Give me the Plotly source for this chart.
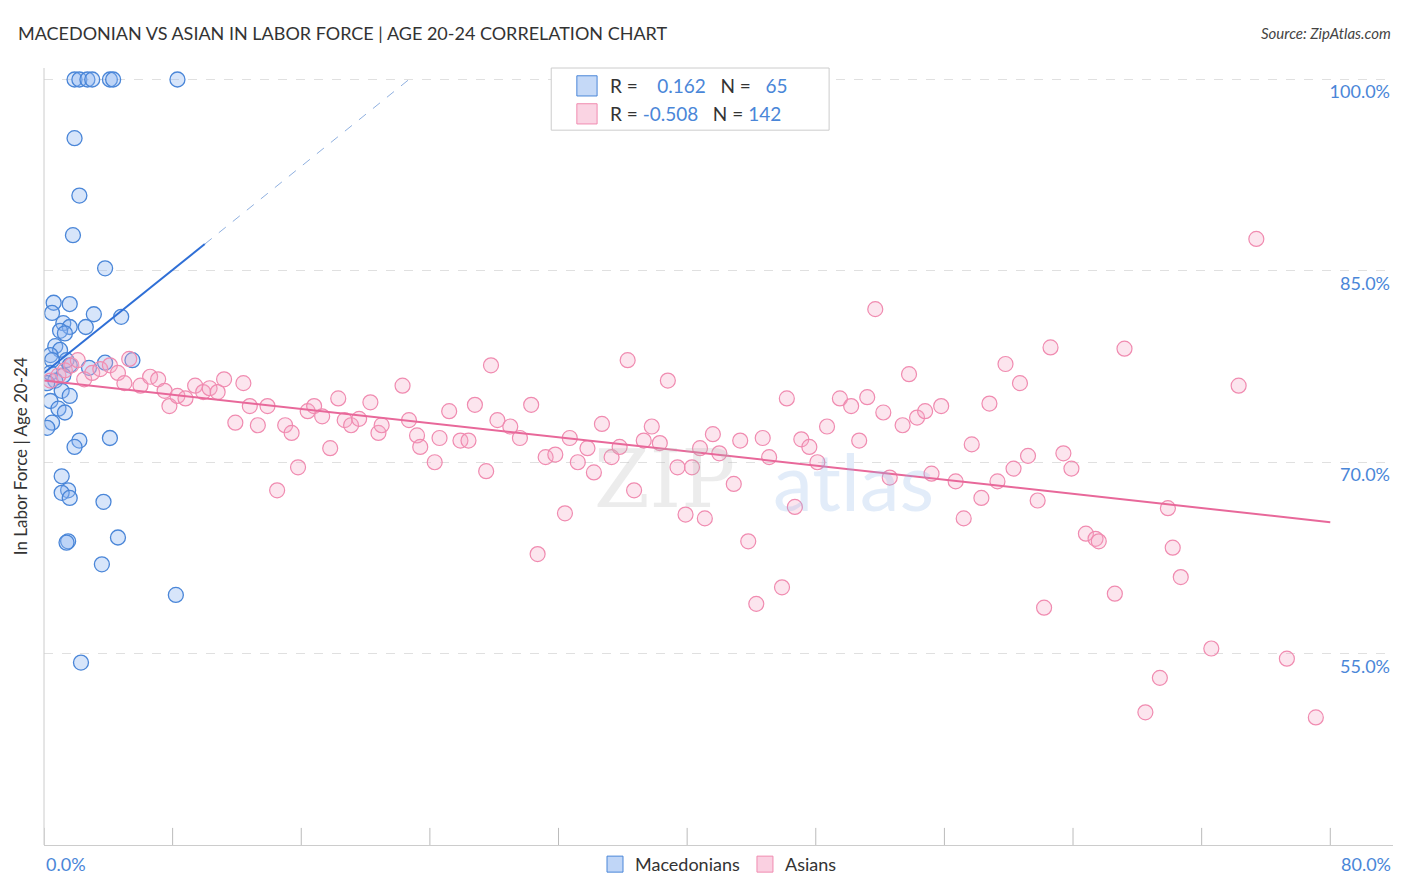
import plotly.graph_objects as go
import numpy as np

mac_x = [1.9,2.2,2.7,3.0,4.1,4.3,8.3,1.9,2.2,1.8,3.8,0.6,1.6,0.5,3.1,4.8,1.2,1.6,2.6,1.0,1.3,0.7,1.0,0.4,0.5,1.4,3.8,5.5,1.6,2.8,0.4,1.2,0.7,0.2,1.1,1.6,0.4,0.9,1.3,0.5,0.2,2.2,1.9,4.1,1.1,1.5,1.1,1.6,3.7,1.5,1.4,4.6,3.6,8.2,2.3]
mac_y = [100,100,100,100,100,100,100,95.4,90.9,87.8,85.2,82.5,82.4,81.7,81.6,81.4,80.9,80.6,80.6,80.3,80.1,79.1,78.8,78.4,78.0,78.0,77.8,78.0,77.6,77.4,77.0,76.8,76.4,76.2,75.6,75.2,74.8,74.2,73.9,73.1,72.7,71.7,71.2,71.9,68.9,67.8,67.6,67.2,66.9,63.8,63.7,64.1,62.0,59.6,54.3]

asi_x = [0.4,0.9,1.3,1.7,2.1,2.5,3.0,3.5,4.1,4.6,5.0,5.3,6.0,6.6,7.1,7.5,7.8,8.3,8.8,9.4,9.9,10.3,10.8,11.2,11.9,12.4,12.8,13.3,13.9,14.5,15.0,15.4,15.8,16.4,16.8,17.3,17.8,18.3,18.7,19.1,19.6,20.3,20.8,21.0,22.3,22.7,23.2,23.4,24.3,24.6,25.2,25.9,26.4,26.8,27.5,27.8,28.2,29.0,29.6,30.3,30.7,31.2,31.8,32.4,32.7,33.2,33.8,34.2,34.7,35.3,35.8,36.3,36.7,37.3,37.8,38.3,38.8,39.4,39.9,40.3,40.8,41.1,41.6,42.0,42.9,43.3,43.8,44.3,44.7,45.1,45.9,46.2,46.7,47.1,47.6,48.1,48.7,49.5,50.2,50.7,51.2,51.7,52.2,52.6,53.4,53.8,54.3,54.8,55.2,55.8,56.7,57.2,57.7,58.3,58.8,59.3,59.8,60.3,60.7,61.2,61.8,62.2,62.6,63.4,63.9,64.8,65.4,65.6,66.6,67.2,68.5,69.4,69.9,70.2,70.7,72.6,74.3,75.4,77.3,79.1]
asi_y = [76.4,76.8,77.2,77.6,78.0,76.5,77.0,77.3,77.6,77.0,76.2,78.1,76.0,76.7,76.5,75.6,74.4,75.2,75.0,76.0,75.5,75.8,75.5,76.5,73.1,76.2,74.4,72.9,74.4,67.8,72.9,72.3,69.6,74.0,74.4,73.6,71.1,75.0,73.3,72.9,73.4,74.7,72.3,72.9,76.0,73.3,72.1,71.2,70.0,71.9,74.0,71.7,71.7,74.5,69.3,77.6,73.3,72.8,71.9,74.5,62.8,70.4,70.6,66.0,71.9,70.0,71.1,69.2,73.0,70.4,71.2,78.0,67.8,71.7,72.8,71.5,76.4,69.6,65.9,69.6,71.1,65.6,72.2,70.7,68.3,71.7,63.8,58.9,71.9,70.4,60.2,75.0,66.5,71.8,71.2,70.0,72.8,75.0,74.4,71.7,75.1,82.0,73.9,68.8,72.9,76.9,73.5,74.0,69.1,74.4,68.5,65.6,71.4,67.2,74.6,68.5,77.7,69.5,76.2,70.5,67.0,58.6,79.0,70.7,69.5,64.4,64.0,63.8,59.7,78.9,50.4,53.1,66.4,63.3,61.0,55.4,76.0,87.5,54.6,50.0]

y_ticks = [55, 70, 85, 100]
y_labels = ["55.0%", "70.0%", "85.0%", "100.0%"]
x_labels = ["0.0%", "80.0%"]

BLUE = "#4a86d8"; PINK = "#f08bb0"
MAC_FILL = "rgba(140,180,240,0.35)"; ASI_FILL = "rgba(245,170,200,0.3)"
fig = go.Figure()
fig.add_trace(go.Scatter(x=mac_x, y=mac_y, mode="markers", showlegend=False,
    marker=dict(size=15, color=MAC_FILL, line=dict(color=BLUE, width=1.3))))
fig.add_trace(go.Scatter(x=asi_x, y=asi_y, mode="markers", showlegend=False,
    marker=dict(size=15, color=ASI_FILL, line=dict(color=PINK, width=1.2))))
fig.add_trace(go.Scatter(x=[None], y=[None], mode="markers", name="Macedonians",
    marker=dict(symbol="square", size=18, color="rgba(140,180,240,0.55)", line=dict(color=BLUE, width=1))))
fig.add_trace(go.Scatter(x=[None], y=[None], mode="markers", name="Asians",
    marker=dict(symbol="square", size=18, color="rgba(245,170,200,0.55)", line=dict(color=PINK, width=1))))
fig.add_trace(go.Scatter(x=[0, 10], y=[77.0, 87.1], mode="lines", showlegend=False,
    line=dict(color="#2f6fd6", width=2)))
fig.add_trace(go.Scatter(x=[10, 22.7], y=[87.1, 100], mode="lines", showlegend=False,
    line=dict(color="#8fb0e0", width=1, dash="dash")))
ax = np.array([0, 80]); ay = 76.4 + (65.3 - 76.4) / 80 * ax
fig.add_trace(go.Scatter(x=ax, y=ay, mode="lines", showlegend=False,
    line=dict(color="#e8689a", width=2)))

fig.update_layout(
    width=1406, height=892, plot_bgcolor="white", paper_bgcolor="white",
    margin=dict(l=36, r=21, t=60, b=55, autoexpand=False),
    font=dict(family="Lato, Noto Sans, sans-serif"),
    xaxis=dict(range=[0, 83.9], showticklabels=False, automargin=False,
               showgrid=False, zeroline=False, showline=True, linecolor="#cccccc",
               ticks="", fixedrange=True),
    yaxis=dict(range=[40, 100.9], tickvals=y_ticks, ticktext=y_labels, side="right", automargin=False,
               showgrid=True, gridcolor="#e0e0e0", griddash="dash", zeroline=False,
               showline=False, tickfont=dict(color="#4a86d8", size=18), ticklabelposition="inside bottom"),
    showlegend=True,
    legend=dict(orientation="h", x=0.5, xanchor="center", y=-0.025, yanchor="middle",
                font=dict(size=18, color="#333")),
)
fig.add_annotation(text=x_labels[0], xref="paper", yref="paper", x=0, y=-0.025, xanchor="left",
                   yanchor="middle", showarrow=False, font=dict(size=18, color=BLUE))
fig.add_annotation(text=x_labels[1], xref="paper", yref="paper", x=1.0, y=-0.025, xanchor="right",
                   yanchor="middle", showarrow=False, font=dict(size=18, color=BLUE))
fig.add_shape(type="line", xref="paper", yref="paper", x0=0, x1=0, y0=0, y1=1,
              line=dict(color="#cccccc", width=1))
for t in range(0, 81, 8):
    fig.add_shape(type="line", x0=t, x1=t, yref="paper", y0=0, y1=0.022,
                  line=dict(color="#bbbbbb", width=1))
fig.add_annotation(text="In Labor Force | Age 20-24", textangle=-90, xref="paper", yref="paper",
                   x=-0.008, y=0.5, xanchor="right", showarrow=False, font=dict(size=17, color="#333"))
fig.add_annotation(text="MACEDONIAN VS ASIAN IN LABOR FORCE | AGE 20-24 CORRELATION CHART",
                   xref="paper", yref="paper", x=-0.021, y=1.045, xanchor="left", yanchor="middle",
                   showarrow=False, font=dict(size=18, color="#333"))
fig.add_annotation(text="<i>Source: ZipAtlas.com</i>", xref="paper", yref="paper", x=1.0, y=1.045,
                   xanchor="right", yanchor="middle", showarrow=False, font=dict(size=15, color="#444"))
fig.add_shape(type="rect", xref="paper", yref="paper", x0=0.376, x1=0.582, y0=0.92, y1=1.0,
              line=dict(color="#cccccc", width=1), fillcolor="white")
fig.add_shape(type="rect", xref="paper", yref="paper", x0=0.395, x1=0.410, y0=0.964, y1=0.99,
              line=dict(color=BLUE, width=1), fillcolor="rgba(140,180,240,0.5)")
fig.add_shape(type="rect", xref="paper", yref="paper", x0=0.395, x1=0.410, y0=0.928, y1=0.954,
              line=dict(color=PINK, width=1), fillcolor="rgba(245,170,200,0.5)")
fig.add_annotation(text="R =  <span style='color:#4a86d8'>  0.162</span>   N =  <span style='color:#4a86d8'> 65</span>",
                   xref="paper", yref="paper", x=0.418, y=0.977, xanchor="left", yanchor="middle",
                   showarrow=False, font=dict(size=19, color="#333"))
fig.add_annotation(text="R = <span style='color:#4a86d8'>-0.508</span>   N = <span style='color:#4a86d8'>142</span>",
                   xref="paper", yref="paper", x=0.418, y=0.941, xanchor="left", yanchor="middle",
                   showarrow=False, font=dict(size=19, color="#333"))
fig.add_annotation(text="ZIP", xref="paper", yref="paper", x=0.46, y=0.47, showarrow=False,
                   font=dict(size=80, color="rgba(180,180,180,0.25)", family="DejaVu Serif"))
fig.add_annotation(text="atlas", xref="paper", yref="paper", x=0.6, y=0.47, showarrow=False,
                   font=dict(size=80, color="rgba(140,180,230,0.25)"))
fig.write_html("out.html")
